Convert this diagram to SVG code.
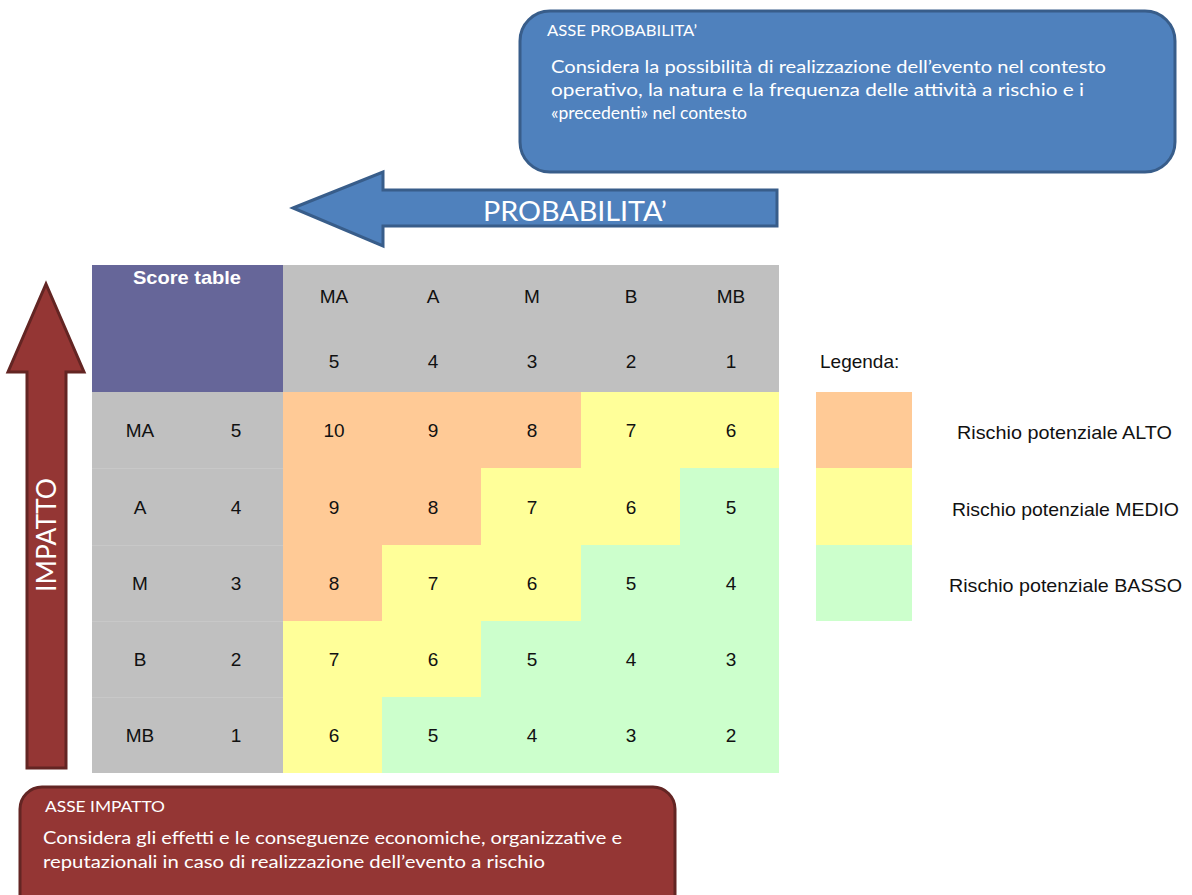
<svg xmlns="http://www.w3.org/2000/svg" width="1192" height="895" viewBox="0 0 1192 895">
<style>
.cal{font-family:Lato,"Open Sans","Liberation Sans",sans-serif;fill:#fff}
.t{font-family:"Liberation Sans",Arial,sans-serif;font-size:19px;fill:#111;text-anchor:middle}
.ls{text-anchor:start}
.o{fill:#FFCA96}.y{fill:#FFFF99}.g{fill:#CCFFCC}.gr{fill:#C0C0C0}
.blue{fill:#4F81BD;stroke:#385D8A;stroke-width:3}
.red{fill:#943634;stroke:#632523;stroke-width:3}
</style>
<rect width="1192" height="895" fill="#fff"/>
<g id="asse-probabilita">
<rect class="blue" x="520" y="11" width="655" height="161" rx="30"/>
<text class="cal" x="547" y="36" font-size="15.5" textLength="150" lengthAdjust="spacingAndGlyphs">ASSE PROBABILITA’</text>
<text class="cal" x="551" y="73" font-size="18" textLength="555" lengthAdjust="spacingAndGlyphs">Considera la possibilità di realizzazione dell’evento nel contesto</text>
<text class="cal" x="551" y="96" font-size="18" textLength="533" lengthAdjust="spacingAndGlyphs">operativo, la natura e la frequenza delle attività a rischio e i</text>
<text class="cal" x="551" y="119" font-size="17.5">«precedenti» nel contesto</text>
</g>
<g id="arrow-probabilita">
<polygon class="blue" points="293,208 383,172 383,190 777,190 777,226 383,226 383,246"/>
<text class="cal" x="483" y="221" font-size="26" textLength="184" lengthAdjust="spacingAndGlyphs">PROBABILITA’</text>
</g>
<g id="arrow-impatto">
<polygon class="red" points="46,284 84,372 66,372 66,768 27,768 27,372 8,372"/>
<text class="cal" transform="translate(56,592) rotate(-90)" font-size="26" textLength="114" lengthAdjust="spacingAndGlyphs">IMPATTO</text>
</g>
<g id="asse-impatto">
<rect class="red" x="20" y="787" width="655" height="140" rx="22"/>
<text class="cal" x="45" y="812" font-size="15.5" textLength="120" lengthAdjust="spacingAndGlyphs">ASSE IMPATTO</text>
<text class="cal" x="43" y="844" font-size="18" textLength="579" lengthAdjust="spacingAndGlyphs">Considera gli effetti e le conseguenze economiche, organizzative e</text>
<text class="cal" x="43" y="868" font-size="18" textLength="502" lengthAdjust="spacingAndGlyphs">reputazionali in caso di realizzazione dell’evento a rischio</text>
</g>
<g id="score-table">
<rect x="92" y="265" width="191" height="127" fill="#666699"/>
<text x="187" y="284" font-family="Liberation Sans,Arial,sans-serif" font-size="19" font-weight="bold" fill="#fff" text-anchor="middle" textLength="108" lengthAdjust="spacingAndGlyphs">Score table</text>
<rect class="gr" x="283" y="265" width="496" height="127"/>
<rect class="gr" x="92" y="392" width="191" height="381"/>
<g stroke="#c8c8c8" stroke-width="1">
<line x1="92" y1="468.5" x2="283" y2="468.5"/><line x1="92" y1="545.5" x2="283" y2="545.5"/><line x1="92" y1="621.5" x2="283" y2="621.5"/><line x1="92" y1="697.5" x2="283" y2="697.5"/>
</g>
<text class="t" x="334" y="303">MA</text><text class="t" x="433" y="303">A</text><text class="t" x="532" y="303">M</text><text class="t" x="631" y="303">B</text><text class="t" x="731" y="303">MB</text>
<text class="t" x="334" y="368">5</text><text class="t" x="433" y="368">4</text><text class="t" x="532" y="368">3</text><text class="t" x="631" y="368">2</text><text class="t" x="731" y="368">1</text>
<text class="t" x="140" y="437">MA</text><text class="t" x="236" y="437">5</text>
<text class="t" x="140" y="514">A</text><text class="t" x="236" y="514">4</text>
<text class="t" x="140" y="590">M</text><text class="t" x="236" y="590">3</text>
<text class="t" x="140" y="666">B</text><text class="t" x="236" y="666">2</text>
<text class="t" x="140" y="742">MB</text><text class="t" x="236" y="742">1</text>
<rect class="o" x="283" y="392" width="99" height="76"/><rect class="o" x="382" y="392" width="99" height="76"/><rect class="o" x="481" y="392" width="100" height="76"/><rect class="y" x="581" y="392" width="99" height="76"/><rect class="y" x="680" y="392" width="99" height="76"/>
<rect class="o" x="283" y="468" width="99" height="77"/><rect class="o" x="382" y="468" width="99" height="77"/><rect class="y" x="481" y="468" width="100" height="77"/><rect class="y" x="581" y="468" width="99" height="77"/><rect class="g" x="680" y="468" width="99" height="77"/>
<rect class="o" x="283" y="545" width="99" height="76"/><rect class="y" x="382" y="545" width="99" height="76"/><rect class="y" x="481" y="545" width="100" height="76"/><rect class="g" x="581" y="545" width="99" height="76"/><rect class="g" x="680" y="545" width="99" height="76"/>
<rect class="y" x="283" y="621" width="99" height="76"/><rect class="y" x="382" y="621" width="99" height="76"/><rect class="g" x="481" y="621" width="100" height="76"/><rect class="g" x="581" y="621" width="99" height="76"/><rect class="g" x="680" y="621" width="99" height="76"/>
<rect class="y" x="283" y="697" width="99" height="76"/><rect class="g" x="382" y="697" width="99" height="76"/><rect class="g" x="481" y="697" width="100" height="76"/><rect class="g" x="581" y="697" width="99" height="76"/><rect class="g" x="680" y="697" width="99" height="76"/>
<text class="t" x="334" y="437">10</text><text class="t" x="433" y="437">9</text><text class="t" x="532" y="437">8</text><text class="t" x="631" y="437">7</text><text class="t" x="731" y="437">6</text>
<text class="t" x="334" y="514">9</text><text class="t" x="433" y="514">8</text><text class="t" x="532" y="514">7</text><text class="t" x="631" y="514">6</text><text class="t" x="731" y="514">5</text>
<text class="t" x="334" y="590">8</text><text class="t" x="433" y="590">7</text><text class="t" x="532" y="590">6</text><text class="t" x="631" y="590">5</text><text class="t" x="731" y="590">4</text>
<text class="t" x="334" y="666">7</text><text class="t" x="433" y="666">6</text><text class="t" x="532" y="666">5</text><text class="t" x="631" y="666">4</text><text class="t" x="731" y="666">3</text>
<text class="t" x="334" y="742">6</text><text class="t" x="433" y="742">5</text><text class="t" x="532" y="742">4</text><text class="t" x="631" y="742">3</text><text class="t" x="731" y="742">2</text>
</g>
<g id="legenda">
<text class="t ls" x="820" y="368">Legenda:</text>
<rect class="o" x="816" y="392" width="96" height="76"/>
<rect class="y" x="816" y="468" width="96" height="77"/>
<rect class="g" x="816" y="545" width="96" height="76"/>
<text class="t ls" x="957" y="439" textLength="215" lengthAdjust="spacingAndGlyphs">Rischio potenziale ALTO</text>
<text class="t ls" x="952" y="516" textLength="227" lengthAdjust="spacingAndGlyphs">Rischio potenziale MEDIO</text>
<text class="t ls" x="949" y="592" textLength="233" lengthAdjust="spacingAndGlyphs">Rischio potenziale BASSO</text>
</g>
</svg>
